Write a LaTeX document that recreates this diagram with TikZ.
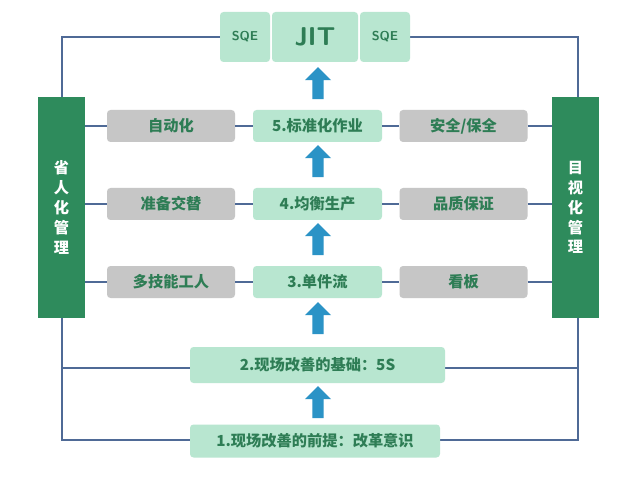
\documentclass[tikz,border=0pt]{standalone}
\usepackage{fontspec}
\setmainfont{Noto Sans CJK SC}
\newcommand{\cjkb}{\bfseries}
\usetikzlibrary{shapes.arrows,positioning}
\definecolor{barGreen}{HTML}{2E8B5C}
\definecolor{mint}{HTML}{B8E6D0}
\definecolor{txtGreen}{HTML}{2E7D55}
\definecolor{boxGray}{HTML}{C6C6C6}
\definecolor{frameBlue}{HTML}{4F6A96}
\definecolor{arrowBlue}{HTML}{2B93C6}
\newlength{\unitlen}
\setlength{\unitlen}{0.03cm}
\tikzset{
  mintbox/.style={fill=mint, rounded corners=3pt, text=txtGreen, font=\cjkb\fontsize{13}{15}\selectfont, inner sep=0pt},
  graybox/.style={fill=boxGray, rounded corners=3pt, text=txtGreen, font=\cjkb\fontsize{13}{15}\selectfont, minimum width=128\unitlen, minimum height=32\unitlen, inner sep=0pt},
  sidebar/.style={fill=barGreen, text=white, font=\cjkb\fontsize{13}{17}\selectfont, minimum width=47\unitlen, minimum height=221\unitlen, align=center, inner sep=0pt},
  link/.style={frameBlue, line width=1.3pt},
  uparrow/.style={single arrow, fill=arrowBlue, shape border rotate=90, minimum width=26\unitlen, single arrow head extend=5\unitlen, minimum height=32\unitlen, inner sep=3pt}
}
\begin{document}
\begin{tikzpicture}[x=0.03cm, y=-0.03cm]
  \useasboundingbox[fill=white] (0,0) rectangle (640,480);
  % frame lines
  \draw[link] (220,37) -- (62,37) -- (62,97);
  \draw[link] (410,37) -- (578,37) -- (578,97);
  \draw[link] (62,318) -- (62,440) -- (190,440);
  \draw[link] (578,318) -- (578,440) -- (440,440);
  \draw[link] (62,368) -- (190,368);
  \draw[link] (445,368) -- (578,368);

  % side bars
  \node[sidebar] (left) at (61.5,207.5) {省\\人\\化\\管\\理};
  \node[sidebar] (right) at (575.5,207.5) {目\\视\\化\\管\\理};

  % top row
  \node[mintbox, minimum width=50\unitlen, minimum height=50\unitlen, font=\bfseries\sffamily\fontsize{11}{12}\selectfont] (sqeL) at (245,37) {SQE};
  \node[mintbox, minimum width=86\unitlen, minimum height=50\unitlen, font=\sffamily\bfseries\fontsize{22}{24}\selectfont] (jit) at (315,37) {JIT};
  \node[mintbox, minimum width=50\unitlen, minimum height=50\unitlen, font=\bfseries\sffamily\fontsize{11}{12}\selectfont] (sqeR) at (385,37) {SQE};

  % three rows
  \foreach \y/\l/\c/\r/\n in {126/自动化/5.标准化作业/{安全/保全}/a,
                              204/准备交替/4.均衡生产/品质保证/b,
                              282/多技能工人/3.单件流/看板/c} {
    \node[graybox] (l\n) at (171,\y) {\l};
    \node[mintbox, minimum width=129\unitlen, minimum height=32\unitlen] (m\n) at (317.5,\y) {\c};
    \node[graybox] (r\n) at (463.5,\y) {\r};
    \draw[link] (left.east |- l\n) -- (l\n.west);
    \draw[link] (l\n) -- (m\n);
    \draw[link] (m\n) -- (r\n);
    \draw[link] (r\n.east) -- (right.west |- r\n);
  }

  % base boxes
  \node[mintbox, minimum width=255\unitlen, minimum height=36\unitlen] (base2) at (317.5,365) {2.现场改善的基础：5S};
  \node[mintbox, minimum width=250\unitlen, minimum height=33\unitlen] (base1) at (315,441) {1.现场改善的前提：改革意识};

  % block arrows
  \foreach \y in {86,164,242,321,405} {
    \node[uparrow] at (318,\y) {};
  }
\end{tikzpicture}
\end{document}
